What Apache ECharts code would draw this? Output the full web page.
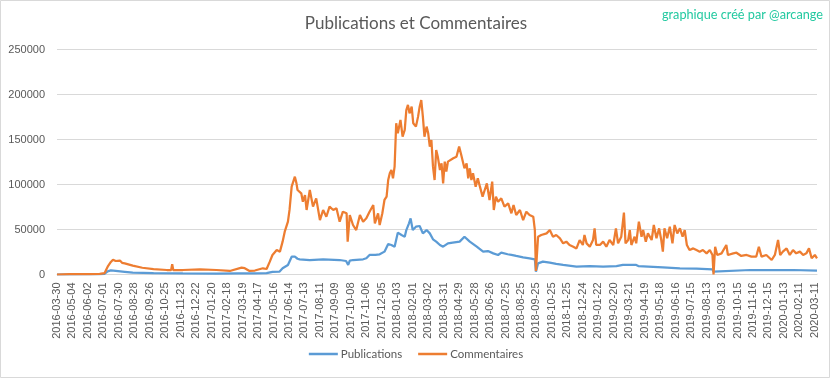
<!DOCTYPE html>
<html>
<head>
<meta charset="utf-8">
<script src="https://cdn.jsdelivr.net/npm/echarts@6/dist/echarts.min.js"></script>
<style>
html,body{margin:0;padding:0;background:#fff;}
#c{width:832px;height:379px;}
</style>
</head>
<body>
<div id="c"></div>
<script>
// Tick labels (one every 29 categories)
const tickLabels = ['2016-03-30','2016-05-04','2016-06-02','2016-07-01','2016-07-30','2016-08-28','2016-09-26','2016-10-25','2016-11-23','2016-12-22',
'2017-01-20','2017-02-18','2017-03-19','2017-04-17','2017-05-16','2017-06-14','2017-07-13','2017-08-11','2017-09-09','2017-10-08',
'2017-11-06','2017-12-05','2018-01-03','2018-02-01','2018-03-02','2018-03-31','2018-04-29','2018-05-28','2018-06-26','2018-07-25',
'2018-08-25','2018-09-25','2018-10-25','2018-11-25','2018-12-24','2019-01-22','2019-02-20','2019-03-21','2019-04-19','2019-05-18',
'2019-06-16','2019-07-15','2019-08-13','2019-09-13','2019-10-15','2019-11-16','2019-12-15','2020-01-13','2020-02-11','2020-03-11'];
const tickStep = 29;
const lastIndex = 1425;

// Publications: [day index, value]
const publications = [
[0,0],[80,300],[89,800],[95,3500],[101,4500],[110,4000],[127,3000],[142,2000],[181,1500],[236,1200],
[300,1000],[340,1200],[370,1300],[393,1500],[404,3000],[417,3100],[423,6900],[433,10600],[440,19800],[446,19800],
[451,17500],[455,16900],[474,16100],[499,16900],[530,16100],[542,15000],[546,10600],[549,15500],[555,16100],[574,16900],
[580,18000],[586,21700],[597,21700],[605,22400],[614,25400],[621,33900],[627,32800],[633,30900],[639,46500],[646,43900],
[652,42000],[655,49400],[660,56900],[663,62400],[667,49400],[673,53100],[680,53900],[686,45700],[693,49400],[699,45700],
[705,39100],[711,36500],[718,32800],[724,30900],[733,34600],[742,35400],[755,36500],[764,42000],[774,36500],[787,30900],
[799,25400],[808,26100],[818,23500],[827,21700],[833,24300],[845,22500],[852,21700],[861,20600],[874,19100],[886,18000],
[896,16900],[898,3100],[902,12400],[911,14300],[924,13100],[936,11700],[949,10600],[974,8700],[999,9400],[1024,8700],
[1049,9400],[1061,10600],[1086,10600],[1090,9400],[1136,8000],[1168,6900],[1199,6500],[1229,5700],[1231,3100],[1234,5000],
[1300,5000],[1380,5000],[1425,4300]
];

// Commentaires: [day index, value]
const commentaires = [
[0,0],[24,300],[61,500],[80,800],[89,1500],[95,8700],[101,14000],[105,16500],[110,15000],[118,15500],
[122,13000],[127,12400],[142,9800],[160,7500],[181,6100],[206,5000],[214,5000],[216,11300],[218,5000],[236,5000],
[268,5800],[299,5000],[324,3900],[346,7600],[352,7000],[361,3900],[371,4400],[386,6900],[393,6100],[399,14300],
[404,21700],[412,27200],[418,25400],[423,36500],[427,47600],[433,58700],[436,71700],[440,97600],[446,108700],[449,101300],
[451,93900],[458,90200],[461,80900],[465,88300],[468,71700],[474,93900],[480,75400],[486,84600],[493,60500],[499,71700],
[505,64200],[511,75400],[518,71700],[524,73500],[530,58700],[536,69800],[543,68000],[545,36500],[549,66100],[555,55000],
[561,49400],[568,66100],[574,58700],[580,62400],[586,69800],[593,77200],[596,56900],[602,68000],[605,55000],[610,68000],
[614,82800],[618,86500],[621,105000],[624,112400],[627,116100],[630,106900],[633,119800],[636,168000],[639,156900],[644,171700],
[648,153100],[652,160600],[655,182800],[658,188400],[661,179100],[665,186500],[668,168000],[673,164300],[677,175400],[680,186500],
[683,193900],[686,175400],[689,153100],[693,164300],[696,156900],[699,142100],[702,149400],[705,119800],[708,105000],[711,138300],
[714,130900],[718,116100],[721,123500],[724,101300],[727,125400],[730,114300],[733,125400],[736,123500],[743,129100],[749,130900],
[754,142100],[758,132800],[761,125400],[764,118000],[768,123500],[771,106900],[774,118000],[777,105000],[780,112400],[785,97600],
[789,106900],[793,97600],[798,86500],[802,93900],[806,101300],[811,82800],[816,103200],[819,71700],[823,86500],[827,80900],
[833,84600],[839,75400],[846,79100],[852,68000],[856,77200],[861,66100],[868,71700],[874,60500],[880,69800],[886,66100],
[893,64200],[896,49400],[898,4000],[902,42000],[908,43900],[918,45700],[924,49400],[930,42000],[936,43900],[943,40200],
[949,34600],[955,36500],[961,32800],[968,30900],[974,29000],[980,38300],[986,32800],[989,43900],[993,34600],[999,30900],
[1005,38300],[1008,51300],[1011,32800],[1018,32800],[1024,36500],[1030,30900],[1036,38300],[1043,32800],[1048,51300],[1052,34600],
[1058,42000],[1063,68700],[1066,34600],[1071,38300],[1074,49400],[1077,32800],[1083,42000],[1086,34600],[1091,58700],[1096,42000],
[1099,49400],[1104,36500],[1108,45700],[1115,38300],[1119,55000],[1124,40200],[1129,51300],[1133,38300],[1136,25400],[1139,51300],
[1144,40200],[1149,53100],[1154,34600],[1158,55000],[1163,45700],[1168,51300],[1173,42000],[1177,49400],[1181,32800],[1186,27200],
[1193,29000],[1199,27200],[1205,25400],[1211,27200],[1218,23500],[1224,27200],[1229,21700],[1231,0],[1234,30900],[1238,21700],
[1246,23500],[1255,32800],[1258,21700],[1268,23500],[1274,24200],[1283,20600],[1293,21700],[1302,19800],[1311,19800],[1316,30900],
[1321,19800],[1330,21700],[1340,16100],[1346,21700],[1352,38300],[1356,21700],[1361,25400],[1368,29000],[1374,21700],[1380,27200],
[1386,23500],[1393,25400],[1399,21700],[1405,23500],[1410,29000],[1415,18000],[1421,21700],[1425,18000]
];

const chart = echarts.init(document.getElementById('c'), null, {renderer:'canvas'});
const txt = '#595959';
const grid = '#d9d9d9';
chart.setOption({
  animation:false,
  backgroundColor:'#fff',
  title:{text:'Publications et Commentaires', left:'center', top:10,
    textStyle:{fontFamily:'Lato', fontSize:17, fontWeight:'normal', color:txt}},
  graphic:[
    {type:'rect', shape:{x:0.5,y:0.5,width:829,height:377}, style:{fill:'none', stroke:grid, lineWidth:1}, silent:true},
    {type:'text', right:9, top:8, style:{text:'graphique créé par @arcange', fontFamily:'Lato', fontSize:12.7, fill:'#22c9a0'}}
  ],
  legend:{bottom:14, left:'center', itemGap:16, itemWidth:29, itemHeight:2.5, icon:'rect',
    textStyle:{fontFamily:'Lato', fontSize:11.5, color:txt, padding:[0,0,0,-2]},
    data:['Publications','Commentaires']},
  grid:{left:57, right:15, top:49.5, bottom:104.5, containLabel:false},
  xAxis:{type:'value', min:0, max:lastIndex, interval:tickStep,
    splitLine:{show:false}, axisTick:{show:false},
    axisLine:{show:true, lineStyle:{color:grid, width:1}},
    axisLabel:{rotate:90, margin:8, fontFamily:'Liberation Sans', fontSize:11, color:txt,
      showMaxLabel:false,
      formatter:function(v){ return (v % tickStep === 0 && tickLabels[v/tickStep]) ? tickLabels[v/tickStep] : ''; }}},
  yAxis:{type:'value', min:0, max:250000, interval:50000,
    axisLine:{show:false}, axisTick:{show:false},
    splitLine:{lineStyle:{color:grid, width:1}},
    axisLabel:{fontFamily:'Liberation Sans', fontSize:11, color:txt, margin:12,
      formatter:function(v){ return String(v); }}},
  series:[
    {name:'Publications', type:'line', data:publications, symbol:'none', showSymbol:false,
      lineStyle:{color:'#5b9bd5', width:2.25}, itemStyle:{color:'#5b9bd5'}},
    {name:'Commentaires', type:'line', data:commentaires, symbol:'none', showSymbol:false,
      lineStyle:{color:'#ed7d31', width:2.25}, itemStyle:{color:'#ed7d31'}}
  ]
});
</script>
</body>
</html>
